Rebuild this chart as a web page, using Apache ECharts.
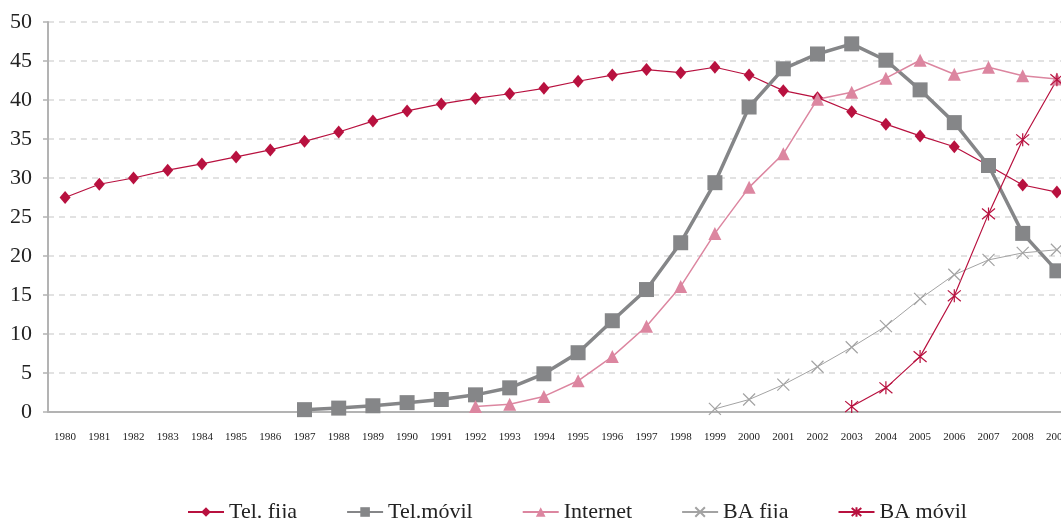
<!DOCTYPE html>
<html lang="es">
<head>
    <meta charset="UTF-8">
    <title>Tel. fija, Tel.móvil, Internet, BA</title>
</head>
<script src="https://cdn.jsdelivr.net/npm/echarts@6/dist/echarts.min.js"></script>
<body style="margin:0">
<div id="main" style="width:1061px;height:518px;"></div>
<script type="text/javascript">
    // años del eje x
    var years = [];
    for (var y = 1980; y <= 2009; y++) { years.push(String(y)); }

    // valores (null = sin dato)
    var telFija = [27.5, 29.2, 30.0, 31.0, 31.8, 32.7, 33.6, 34.7, 35.9, 37.3,
        38.6, 39.5, 40.2, 40.8, 41.5, 42.4, 43.2, 43.9, 43.5, 44.2,
        43.2, 41.2, 40.3, 38.5, 36.9, 35.4, 34.0, 31.6, 29.1, 28.2];
    var telMovil = [null, null, null, null, null, null, null, 0.3, 0.5, 0.8,
        1.2, 1.6, 2.2, 3.1, 4.9, 7.6, 11.7, 15.7, 21.7, 29.4,
        39.1, 44.0, 45.9, 47.2, 45.1, 41.3, 37.1, 31.6, 22.9, 18.1];
    var internet = [null, null, null, null, null, null, null, null, null, null,
        null, null, 0.7, 1.0, 2.0, 4.0, 7.1, 11.0, 16.1, 22.9,
        28.8, 33.1, 40.1, 41.0, 42.8, 45.1, 43.3, 44.2, 43.1, 42.7];
    var baFija = [null, null, null, null, null, null, null, null, null, null,
        null, null, null, null, null, null, null, null, null, 0.4,
        1.6, 3.5, 5.8, 8.3, 11.0, 14.5, 17.6, 19.5, 20.4, 20.8];
    var baMovil = [null, null, null, null, null, null, null, null, null, null,
        null, null, null, null, null, null, null, null, null, null,
        null, null, null, 0.7, 3.1, 7.1, 14.9, 25.4, 34.9, 42.6];

    var serif = '"Liberation Serif", "DejaVu Serif", serif';
    var rojo = '#b8113f';
    var gris = '#858688';
    var rosa = '#dc86a0';
    var grisClaro = '#a3a3a3';

    var myChart = echarts.init(document.getElementById('main'));

    option = {
        animation: false,
        textStyle: { fontFamily: serif },
        // el eje sigue más allá del borde derecho, como en el original
        grid: { left: 48, top: 22, width: 1026, height: 390, outerBoundsMode: 'none' },
        legend: {
            left: 182,
            top: 496,
            itemWidth: 36,
            itemHeight: 12,
            itemGap: 49,
            textStyle: { fontFamily: serif, fontSize: 22, color: '#222' },
            data: ['Tel. fija', 'Tel.móvil', 'Internet', 'BA fija', 'BA móvil']
        },
        xAxis: {
            type: 'category',
            data: years,
            boundaryGap: true,
            axisLine: { lineStyle: { color: '#b3b3b3', width: 2 } },
            axisTick: { length: 5, lineStyle: { color: '#b3b3b3', width: 1.5 } },
            axisLabel: { fontFamily: serif, fontSize: 11, color: '#222', margin: 20, interval: 0 }
        },
        yAxis: {
            type: 'value',
            min: 0,
            max: 50,
            interval: 5,
            axisLine: { show: true, lineStyle: { color: '#b3b3b3', width: 2 } },
            axisTick: { show: true, length: 5, lineStyle: { color: '#b3b3b3', width: 1.5 } },
            axisLabel: { fontFamily: serif, fontSize: 22, color: '#222', margin: 16 },
            splitLine: { lineStyle: { color: '#d9d9d9', width: 1.5, type: [6, 5] } }
        },
        series: [
            {
                name: 'Tel. fija', type: 'line', data: telFija,
                symbol: 'diamond', symbolSize: [11, 13],
                itemStyle: { color: rojo },
                lineStyle: { color: rojo, width: 1.2 }
            },
            {
                name: 'Tel.móvil', type: 'line', data: telMovil,
                symbol: 'rect', symbolSize: 15,
                itemStyle: { color: gris },
                lineStyle: { color: gris, width: 3.5 }
            },
            {
                name: 'Internet', type: 'line', data: internet,
                symbol: 'triangle', symbolSize: 13,
                itemStyle: { color: rosa },
                lineStyle: { color: rosa, width: 1.5 }
            },
            {
                name: 'BA fija', type: 'line', data: baFija,
                symbol: 'path://M0,0L10,10M10,0L0,10', symbolSize: 12,
                itemStyle: { color: grisClaro, borderColor: grisClaro, borderWidth: 1.2 },
                lineStyle: { color: grisClaro, width: 1 }
            },
            {
                name: 'BA móvil', type: 'line', data: baMovil,
                symbol: 'path://M0,0L10,10M10,0L0,10M5,-1L5,11', symbolSize: 13,
                itemStyle: { color: rojo, borderColor: rojo, borderWidth: 1.2 },
                lineStyle: { color: rojo, width: 1.2 }
            }
        ]
    };

    myChart.setOption(option);
</script>
</body>
</html>
